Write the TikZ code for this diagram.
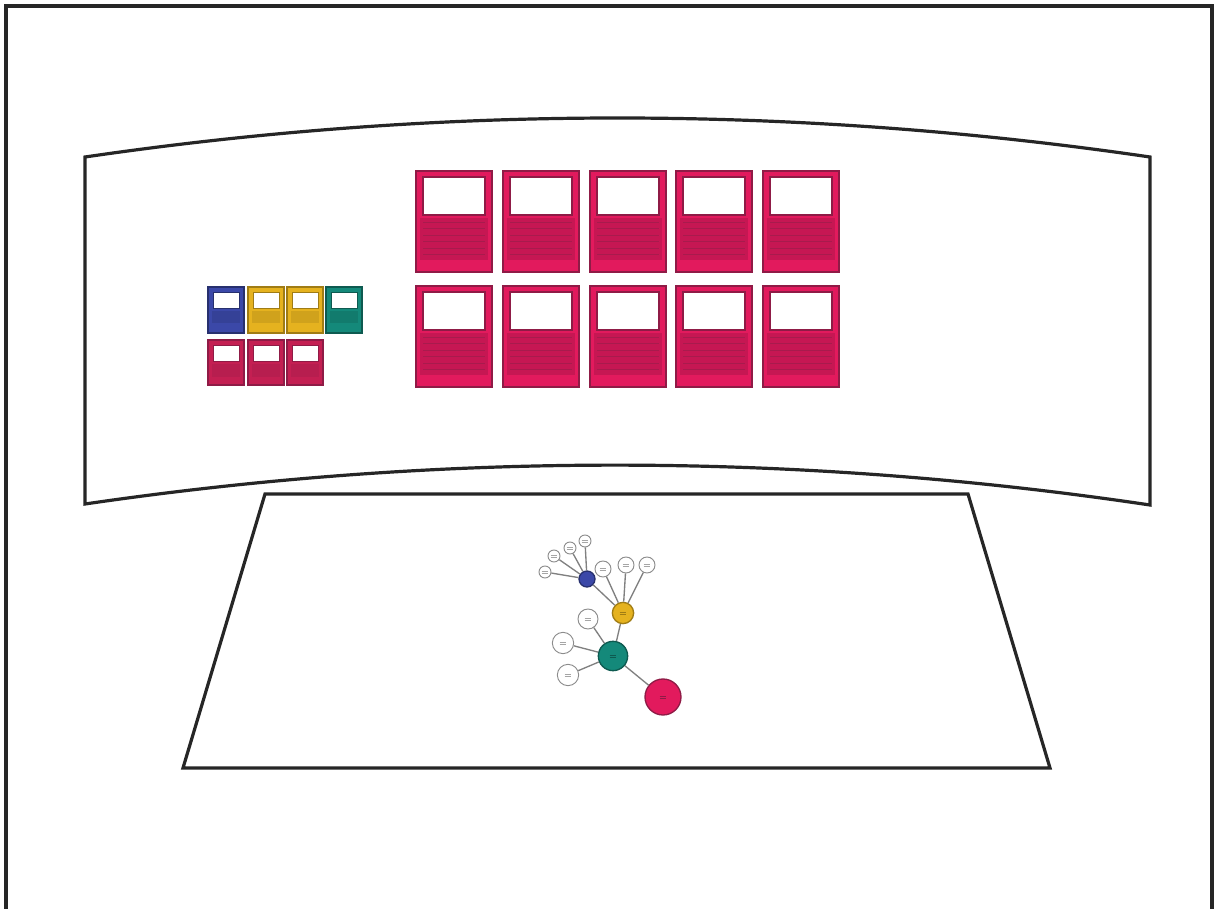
\documentclass[tikz,border=0pt]{standalone}
\usetikzlibrary{calc}
\definecolor{pinkC}{HTML}{E21A5D}
\definecolor{pinkS}{HTML}{C41F52}
\definecolor{pinkD}{HTML}{8F1B46}
\definecolor{pinkL}{HTML}{B0144A}
\definecolor{blueC}{HTML}{3B48A8}
\definecolor{blueD}{HTML}{27306E}
\definecolor{yellowC}{HTML}{E5B21F}
\definecolor{yellowD}{HTML}{A07C14}
\definecolor{greenC}{HTML}{14897A}
\definecolor{greenD}{HTML}{0E5A50}
\tikzset{
  outline/.style={draw=black!85, line width=2.4pt, line join=miter},
  cardedge/.style={line width=1.4pt},
  gn/.style={circle, draw=black!45, line width=0.7pt, fill=white, inner sep=0pt},
  cn/.style={circle, line width=1pt, inner sep=0pt},
  ge/.style={draw=black!50, line width=1pt},
  txt/.style={path picture={\draw[#1, line width=0.4pt]
     ($(path picture bounding box.center)+(-2.5pt,-0.9pt)$) -- ++(5pt,0)
     ($(path picture bounding box.center)+(-2.5pt,0.9pt)$) -- ++(5pt,0);}}
}
\begin{document}
\begin{tikzpicture}[x=0.75pt,y=-0.75pt]
\useasboundingbox (0,0) rectangle (1215,909);
\fill[white] (0,0) rectangle (1215,909);
% outer frame
\draw[outline, line width=3pt] (6,915) -- (6,6) -- (1212,6) -- (1212,915);
% curved screen
\draw[outline] (85,157) .. controls (440,105) and (795,105) .. (1150,157)
  -- (1150,505) .. controls (795,452) and (440,452) .. (85,504) -- cycle;
% table
\draw[outline] (265,494) -- (968,494) -- (1050,768) -- (183,768) -- cycle;

% big cards
\foreach \X in {416,503,590,676,763}{
  \foreach \Y in {171,286}{
    \filldraw[cardedge, fill=pinkC, draw=pinkD] (\X,\Y) rectangle ++(76,101);
    \filldraw[fill=white, draw=pinkD, line width=0.8pt] (\X+7,\Y+6) rectangle ++(62,38);
    \fill[pinkL!55!pinkC] (\X+4,\Y+47) rectangle ++(68,42);
    \foreach \k in {0,...,5}{
      \draw[pinkD!70!pinkC, line width=0.5pt] (\X+7,\Y+51+\k*6.5) -- ++(62,0);
    }
  }
}

% small cards
\foreach \X/\fc/\dc in {208/blueC/blueD, 248/yellowC/yellowD, 287/yellowC/yellowD, 326/greenC/greenD}{
  \filldraw[cardedge, fill=\fc, draw=\dc] (\X,287) rectangle ++(36,46);
  \filldraw[fill=white, draw=\dc, line width=0.6pt] (\X+5,292) rectangle ++(26,16);
  \fill[\dc!30!\fc] (\X+4,311) rectangle ++(28,12);
}
\foreach \X in {208,248,287}{
  \filldraw[cardedge, fill=pinkS, draw=pinkD] (\X,340) rectangle ++(36,45);
  \filldraw[fill=white, draw=pinkD, line width=0.6pt] (\X+5,345) rectangle ++(26,16);
  \fill[pinkD!25!pinkS] (\X+4,364) rectangle ++(28,13);
}

% graph on table
\node[cn, fill=blueC, draw=blueD, minimum size=12pt] (nb) at (587,579) {};
\node[cn, fill=yellowC, draw=yellowD, minimum size=16pt, txt=yellowD] (ny) at (623,613) {};
\node[cn, fill=greenC, draw=greenD, minimum size=22pt, txt=greenD] (ng) at (613,656) {};
\node[cn, fill=pinkC, draw=pinkD, minimum size=27pt, txt=pinkD] (np) at (663,697) {};

\node[gn, minimum size=9pt, txt=black!35] (b1) at (545,572) {};
\node[gn, minimum size=9pt, txt=black!35] (b2) at (554,556) {};
\node[gn, minimum size=9pt, txt=black!35] (b3) at (570,548) {};
\node[gn, minimum size=9pt, txt=black!35] (b4) at (585,541) {};

\node[gn, minimum size=12pt, txt=black!35] (y1) at (603,569) {};
\node[gn, minimum size=12pt, txt=black!35] (y2) at (626,565) {};
\node[gn, minimum size=12pt, txt=black!35] (y3) at (647,565) {};

\node[gn, minimum size=15pt, txt=black!35] (g1) at (588,619) {};
\node[gn, minimum size=16pt, txt=black!35] (g2) at (563,643) {};
\node[gn, minimum size=16pt, txt=black!35] (g3) at (568,675) {};

\foreach \n in {b1,b2,b3,b4}{ \draw[ge] (nb) -- (\n); }
\foreach \n in {y1,y2,y3}{ \draw[ge] (ny) -- (\n); }
\foreach \n in {g1,g2,g3}{ \draw[ge] (ng) -- (\n); }
\draw[ge] (nb) -- (ny);
\draw[ge] (ny) -- (ng);
\draw[ge] (ng) -- (np);
\end{tikzpicture}
\end{document}
